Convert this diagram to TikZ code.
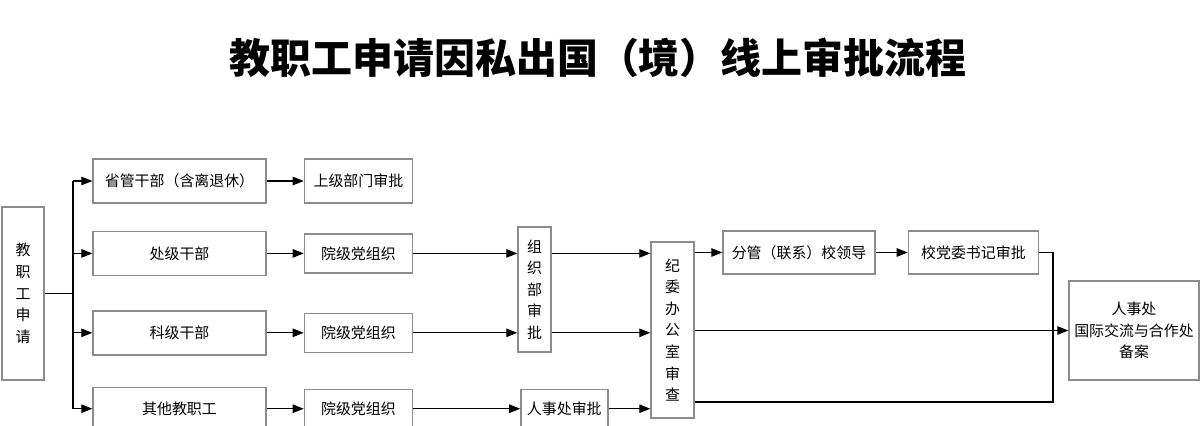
\documentclass[tikz,border=0pt]{standalone}
\usepackage{fontspec}
\setmainfont{Noto Sans CJK SC}
\usepackage{xcolor}
\usetikzlibrary{shapes,arrows,arrows.meta,positioning}

\begin{document}
\begin{tikzpicture}[font=\fontsize{8.5pt}{12.3pt}\selectfont,
    >={Triangle[length=0.22cm,width=0.17cm]},
    box/.style={draw=gray!90, line width=0.8pt, rectangle, fill=white, align=center, inner sep=0pt},
    link/.style={->, line width=0.6pt}]
    \useasboundingbox (0,0) rectangle (24,-8.52);
    % Title
    \node[font=\fontsize{23.3pt}{23.3pt}\selectfont\bfseries] (title) at (11.96,-1.16) {教职工申请因私出国（境）线上审批流程};

    % Applicant and the four groups
    \node[box, minimum width=0.84cm, minimum height=3.46cm] (apply) at (0.46,-5.87) {教\\职\\工\\申\\请};
    \node[box, minimum width=3.46cm, minimum height=0.88cm] (sheng) at (3.59,-3.62) {省管干部（含离退休）};
    \node[box, minimum width=3.46cm, minimum height=0.88cm, below=0.54cm of sheng] (chu) {处级干部};
    \node[box, minimum width=3.46cm, minimum height=0.88cm, below=0.68cm of chu] (ke) {科级干部};
    \node[box, minimum width=3.46cm, minimum height=0.86cm, below=0.62cm of ke] (other) {其他教职工};

    % Second column
    \node[box, minimum width=2.16cm, minimum height=0.88cm, right=0.74cm of sheng] (upper) {上级部门审批};
    \node[box, minimum width=2.16cm, minimum height=0.78cm, right=0.74cm of chu] (party1) {院级党组织};
    \node[box, minimum width=2.16cm, minimum height=0.78cm, right=0.74cm of ke] (party2) {院级党组织};
    \node[box, minimum width=2.16cm, minimum height=0.78cm, right=0.74cm of other] (party3) {院级党组织};

    % Approvals
    \node[box, minimum width=0.66cm, minimum height=2.5cm] (org) at (10.69,-5.79) {组\\织\\部\\审\\批};
    \node[box, minimum width=1.74cm, minimum height=0.76cm, right=2.14cm of party3] (hr) {人事处审批};
    \node[box, minimum width=0.86cm, minimum height=3.52cm] (jiwei) at (13.45,-6.60) {纪\\委\\办\\公\\室\\审\\查};
    \node[box, minimum width=3.04cm, minimum height=0.86cm] (fenguan) at (15.98,-5.05) {分管（联系）校领导};
    \node[box, minimum width=2.6cm, minimum height=0.86cm, right=0.64cm of fenguan] (secretary) {校党委书记审批};
    \node[box, minimum width=2.6cm, minimum height=1.98cm] (final) at (22.68,-6.61) {人事处\\国际交流与合作处\\备案};

    \coordinate (split) at (1.46,-5.87);
    \coordinate (bend) at (21.06,-8.04);

    % Branching from the applicant
    \draw[line width=0.6pt] (apply) -- (split);
    \draw[line width=0.6pt] (split |- sheng) -- (split |- other);
    \foreach \n in {sheng,chu,ke,other}
        \draw[link] (split |- \n) -- (\n);
    \foreach \a/\b in {sheng/upper,chu/party1,ke/party2,other/party3}
        \draw[link] (\a) -- (\b);

    % Towards the review office
    \draw[link] (party1) -- (party1 -| org.west);
    \draw[link] (party2) -- (party2 -| org.west);
    \draw[link] (party3) -- (hr);
    \draw[link] (org.east |- party1) -- (jiwei.west |- party1);
    \draw[link] (org.east |- party2) -- (jiwei.west |- party2);
    \draw[link] (hr) -- (hr -| jiwei.west);

    % Towards filing
    \draw[link] (jiwei.east |- fenguan) -- (fenguan);
    \draw[link] (fenguan) -- (secretary);
    \draw[link] (jiwei.east |- final) -- (final);
    \draw[line width=0.6pt] (secretary.east) -| (bend) -- (bend -| jiwei.east);
\end{tikzpicture}
\end{document}
